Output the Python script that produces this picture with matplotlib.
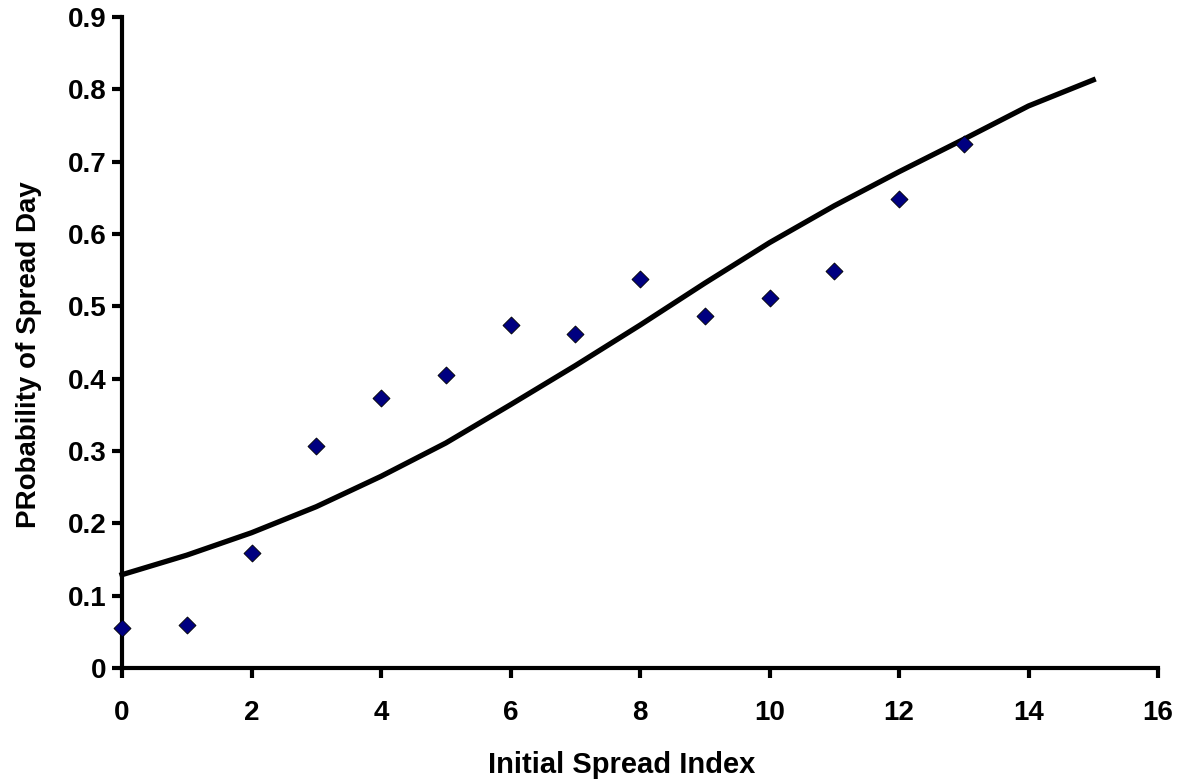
import matplotlib.pyplot as plt

# observed proportion of spread days per ISI
isi_obs = [0, 1, 2, 3, 4, 5, 6, 7, 8, 9, 10, 11, 12, 13]
prob_obs = [0.055, 0.059, 0.159, 0.307, 0.373, 0.405, 0.474, 0.462,
            0.538, 0.487, 0.512, 0.549, 0.648, 0.724]

# fitted curve
isi_fit = [0, 1, 2, 3, 4, 5, 6, 7, 8, 9, 10, 11, 12, 13, 14, 15]
prob_fit = [0.129, 0.156, 0.187, 0.223, 0.265, 0.311, 0.364, 0.418,
            0.474, 0.532, 0.588, 0.639, 0.686, 0.731, 0.777, 0.813]

xticks = [0, 2, 4, 6, 8, 10, 12, 14, 16]
yticks = [0, 0.1, 0.2, 0.3, 0.4, 0.5, 0.6, 0.7, 0.8, 0.9]

plt.rcParams['font.family'] = ['Liberation Sans', 'DejaVu Sans']
plt.rcParams['font.weight'] = 'bold'

fig = plt.figure(figsize=(11.81, 7.84), dpi=100)
ax = fig.add_axes([122 / 1181, 1 - 668 / 784, (1158 - 122) / 1181, (668 - 17) / 784])

ax.plot(isi_fit, prob_fit, color='black', linewidth=3.8, zorder=2, clip_on=False)
ax.scatter(isi_obs, prob_obs, marker='D', s=75, color='#000080',
           edgecolors='black', linewidths=0.6, zorder=3, clip_on=False)

ax.set_xlim(0, 16)
ax.set_ylim(0, 0.9)
ax.set_xticks(xticks)
ax.set_xticklabels([str(t) for t in xticks])
ax.set_yticks(yticks)
ax.set_yticklabels(['0' if t == 0 else f'{t:.1f}' for t in yticks])

for s in ['top', 'right']:
    ax.spines[s].set_visible(False)
for s in ['left', 'bottom']:
    ax.spines[s].set_linewidth(3)

ax.tick_params(axis='both', direction='out', length=7, width=3, labelsize=20)
ax.tick_params(axis='x', pad=16)
ax.tick_params(axis='y', pad=4)
for lab in ax.get_xticklabels() + ax.get_yticklabels():
    lab.set_fontweight('bold')

ax.set_xlabel('Initial Spread Index', fontsize=21, fontweight='bold')
ax.set_ylabel('PRobability of Spread Day', fontsize=20, fontweight='bold')
ax.xaxis.set_label_coords(0.482, -0.127)
ax.yaxis.set_label_coords(-0.077, 0.481)

plt.savefig('out.png', dpi=100)
